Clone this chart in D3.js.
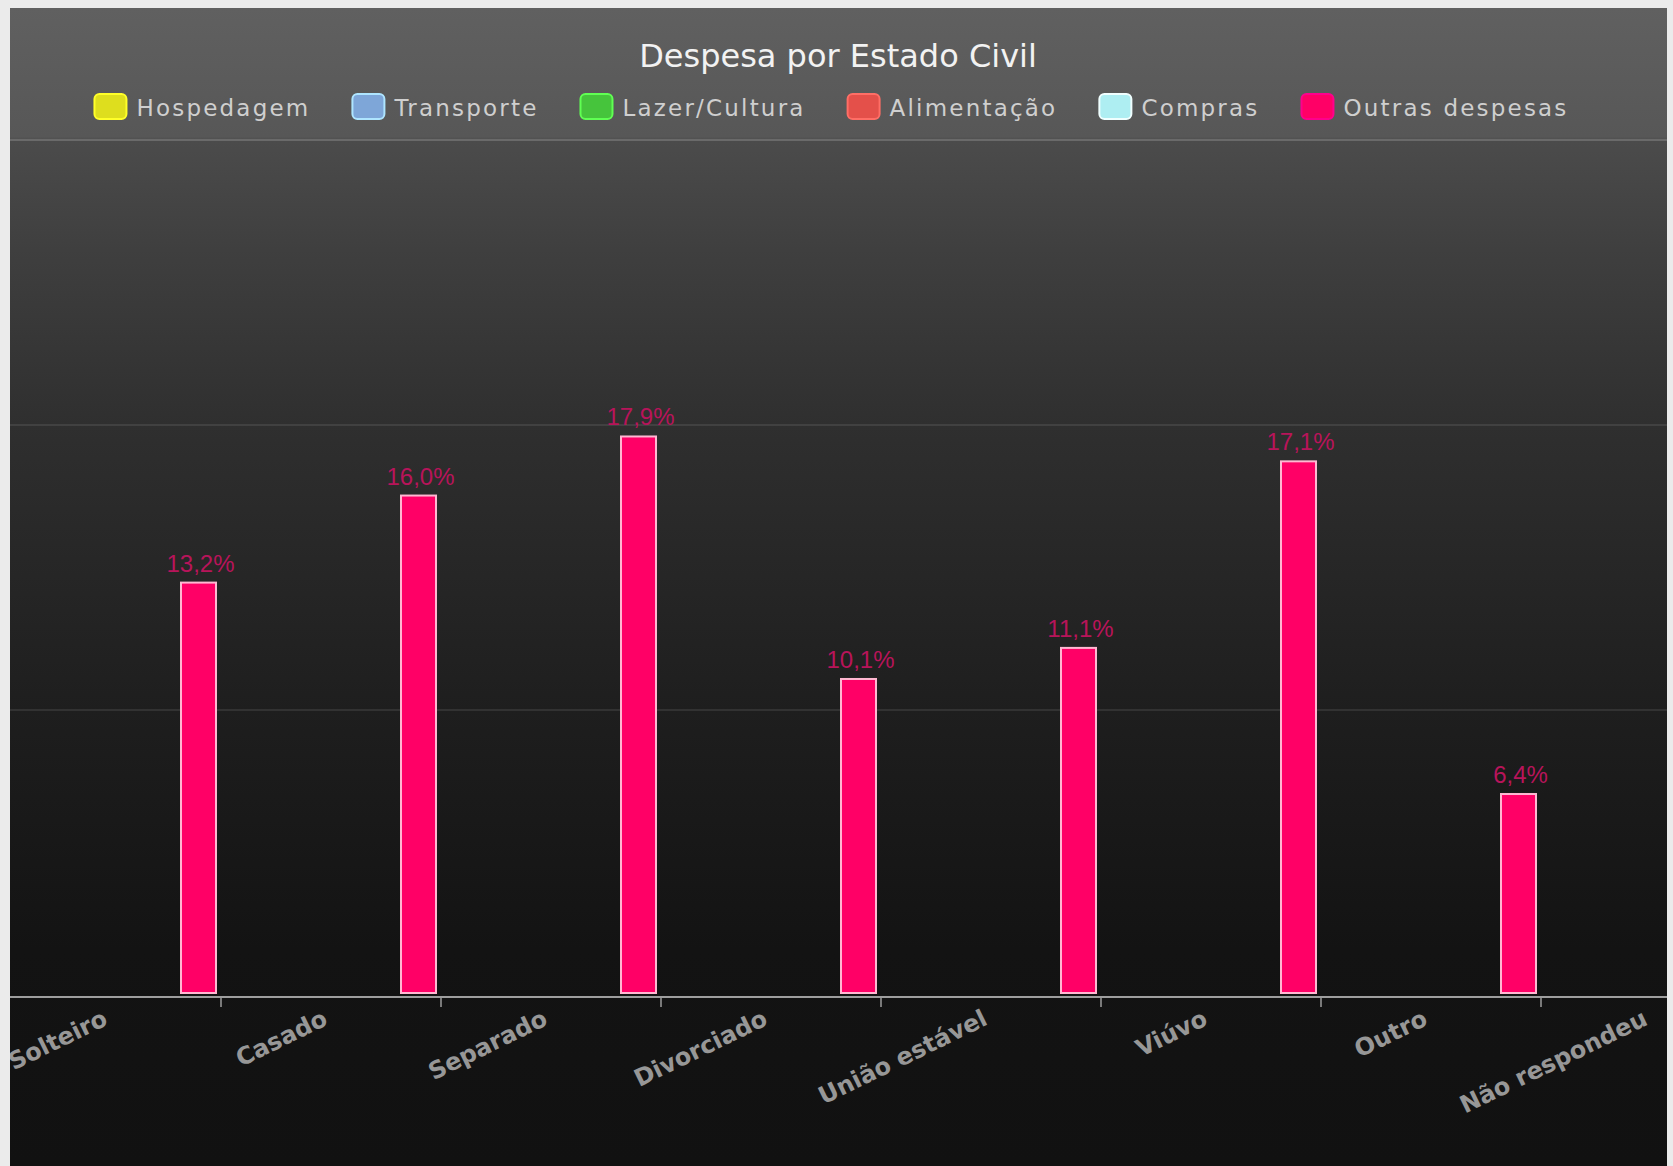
<!DOCTYPE html>
<html><head><meta charset="utf-8">
<script src="https://cdn.jsdelivr.net/npm/d3@7"></script>
<style>html,body{margin:0;padding:0;background:#ebebeb;overflow:hidden} svg{display:block}</style>
</head><body>
<svg id="chart" width="1673" height="1166"></svg>
<script>
const chartTitle = "Despesa por Estado Civil";
const categories = ["Solteiro","Casado","Separado","Divorciado","União estável","Viúvo","Outro","Não respondeu"];
const seriesNames = ["Hospedagem","Transporte","Lazer/Cultura","Alimentação","Compras","Outras despesas"];
const seriesColors = ["#dede1e","#7ea6d8","#46c43c","#e4504a","#aeeef2","#ff0066"];
// only "Outras despesas" has visible bars; last category's bar lies outside the visible panel
const outrasDespesas = [13.2, 16.0, 17.9, 10.1, 11.1, 17.1, 6.4, null];
const yMax = 27.5;
const gridCount = 3;

const W = 1673, H = 1166;
const panel = {x: 10, y: 8, w: 1657, h: 1158};
const svg = d3.select("#chart");
const defs = svg.append("defs");

const grad = defs.append("linearGradient").attr("id","bg").attr("x1",0).attr("y1",0).attr("x2",0).attr("y2",1);
[[0,"#606060"],[0.111,"#575757"],[0.115,"#4b4b4b"],[0.209,"#3f3f3f"],[0.36,"#2f2f2f"],[0.607,"#1e1e1e"],[0.813,"#131313"],[1,"#111111"]]
  .forEach(([o,c]) => grad.append("stop").attr("offset",o).attr("stop-color",c));

defs.append("clipPath").attr("id","clip").append("rect")
  .attr("x",panel.x).attr("y",panel.y).attr("width",panel.w).attr("height",panel.h);

svg.append("rect").attr("x",panel.x).attr("y",panel.y).attr("width",panel.w).attr("height",panel.h)
  .attr("fill","url(#bg)");

const g = svg.append("g").attr("clip-path","url(#clip)");

// scales
const x0 = d3.scaleBand().domain(categories).range([1, 1761]).padding(0);
const x1 = d3.scaleBand().domain(seriesNames).range([5, x0.bandwidth()-5]).padding(0);
const y = d3.scaleLinear().domain([0, yMax]).range([993, 138]);

// grid lines
const gridVals = d3.range(1, gridCount+1).map(i => yMax*i/gridCount);
g.selectAll("line.grid").data(gridVals).join("line")
  .attr("class","grid")
  .attr("x1",panel.x).attr("x2",panel.x+panel.w)
  .attr("y1",d=>y(d)+2).attr("y2",d=>y(d)+2)
  .attr("stroke",(d,i)=> i===gridCount-1 ? "#6a6a6a" : "#ffffff")
  .attr("stroke-opacity",(d,i)=> i===gridCount-1 ? 1 : 0.09)
  .attr("stroke-width",2);

// x axis
const axisY = y(0)+4;
const xAxis = d3.axisBottom(x0).tickSize(10).tickSizeOuter(0).tickFormat("");
const axG = g.append("g").attr("transform",`translate(0,${axisY})`).call(xAxis);
axG.select(".domain").attr("stroke","#9e9e9e").attr("stroke-width",2)
  .attr("d",`M${panel.x},0H${panel.x+panel.w}`);
axG.selectAll(".tick").attr("transform", d => `translate(${x0(d)+x0.bandwidth()},0)`);
axG.selectAll(".tick line").attr("stroke","#9e9e9e").attr("stroke-width",1.5);

// category labels
g.selectAll("text.cat").data(categories).join("text")
  .attr("class","cat")
  .attr("transform", d => `translate(${x0(d)+x0.bandwidth()/2 - 2},${axisY+27}) rotate(-26)`)
  .attr("text-anchor","end")
  .attr("font-family","DejaVu Sans")
  .attr("font-weight","bold")
  .attr("font-size",24)
  .attr("fill","#979797")
  .text(d=>d);

// bars
const barData = categories.map((c,i)=>({cat:c, v: outrasDespesas[i]})).filter(d=>d.v!=null);
const sName = "Outras despesas";
const sColor = seriesColors[seriesNames.indexOf(sName)];
g.selectAll("rect.bar").data(barData).join("rect")
  .attr("class","bar")
  .attr("x", d=> x0(d.cat)+x1(sName))
  .attr("width", x1.bandwidth())
  .attr("y", d=> y(d.v))
  .attr("height", d=> y(0)-y(d.v))
  .attr("fill", sColor)
  .attr("stroke","#ffb8d2")
  .attr("stroke-width",2);

const fmt = v => d3.format(".1f")(v).replace(".",",") + "%";
g.selectAll("text.val").data(barData).join("text")
  .attr("class","val")
  .attr("x", d=> x0(d.cat)+x1(sName)+x1.bandwidth()/2 + 2)
  .attr("y", d=> y(d.v)-11)
  .attr("text-anchor","middle")
  .attr("font-family","Liberation Sans")
  .attr("font-size",24)
  .attr("fill","#b8145a")
  .text(d=>fmt(d.v));

// title
svg.append("text").attr("x",838).attr("y",67).attr("text-anchor","middle")
  .attr("font-family","DejaVu Sans").attr("font-size",32).attr("fill","#f2f2f2")
  .text(chartTitle);

// legend
const leg = svg.append("g");
let cx = 0;
const sw = 34, sh = 27, gapText = 9, gapItem = 41;
seriesNames.forEach((name,i)=>{
  const it = leg.append("g").attr("transform",`translate(${cx},0)`);
  const col = d3.color(seriesColors[i]);
  it.append("rect").attr("x",1).attr("y",94).attr("width",sw-2).attr("height",sh-2).attr("rx",5)
    .attr("fill",seriesColors[i]).attr("stroke",col.brighter(0.9).formatHex()).attr("stroke-width",2);
  const t = it.append("text").attr("x",sw+gapText).attr("y",116)
    .attr("font-family","DejaVu Sans").attr("font-size",23).attr("letter-spacing",2.2)
    .attr("fill","#cfcfcf").text(name);
  cx += sw + gapText + t.node().getComputedTextLength() + gapItem;
});
const legW = cx - gapItem;
leg.attr("transform",`translate(${831 - legW/2},0)`);
</script>
</body></html>
